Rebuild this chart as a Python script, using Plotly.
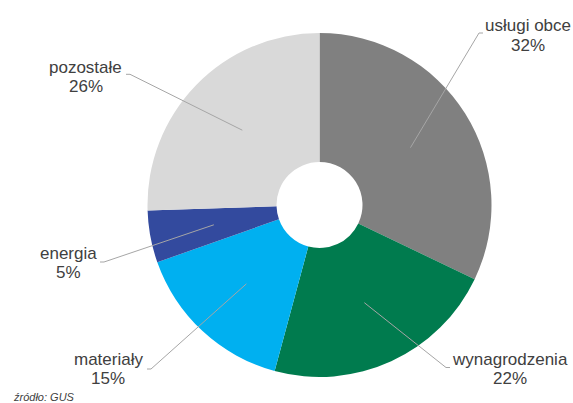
import math
import plotly.graph_objects as go

# ---- data ----
categories = ["usługi obce", "wynagrodzenia", "materiały", "energia", "pozostałe"]
values = [32.1, 22.1, 15.4, 4.9, 25.5]
pct_labels = ["32%", "22%", "15%", "5%", "26%"]
colors = ["#808080", "#007B4E", "#00B0F0", "#334A9E", "#D9D9D9"]

# ---- layout (pixels) ----
W, H = 573, 403
CX, CY, R = 319.5, 205.0, 172.0
HOLE = 0.25

# label placement: (name center x, name baseline y, pct baseline y, elbow x, elbow y, end x)
label_pos = {
    "usługi obce":   (528, 31.5, 51.5, 479, 33, 483),
    "wynagrodzenia": (510, 365, 384, 446, 367.5, 450),
    "materiały":     (108, 365, 384, 151, 369, 147),
    "energia":       (68.5, 259, 278.5, 104, 262, 100),
    "pozostałe":     (85.5, 73, 92, 130, 74.3, 126),
}

def px(x):
    return x / W

def py(y):
    return 1 - y / H

fig = go.Figure(go.Pie(
    labels=categories,
    values=values,
    marker=dict(colors=colors, line=dict(width=0)),
    hole=HOLE,
    sort=False,
    direction="clockwise",
    rotation=0,
    textinfo="none",
    hoverinfo="skip",
    showlegend=False,
    domain=dict(x=[px(CX - R), px(CX + R)], y=[py(CY + R), py(CY - R)]),
))

FONT = "Liberation Sans, Arial, sans-serif"
TXT = "#404040"
FS = 17
annotations = []
shapes = []
total = sum(values)
cum = 0.0
for cat, v, pl in zip(categories, values, pct_labels):
    theta = 2 * math.pi * (cum + v / 2) / total
    cum += v
    ax = CX + 0.625 * R * math.sin(theta)
    ay = CY - 0.625 * R * math.cos(theta)
    nx, nb, pb, ex, ey, endx = label_pos[cat]
    shapes.append(dict(
        type="path", xref="paper", yref="paper",
        path=f"M {px(ax)},{py(ay)} L {px(ex)},{py(ey)} L {px(endx)},{py(ey)}",
        line=dict(color="#A6A6A6", width=1),
    ))
    for txt, base in ((cat, nb), (pl, pb)):
        annotations.append(dict(
            text=txt, x=px(nx), y=py(base - 5.8), xref="paper", yref="paper",
            xanchor="center", yanchor="middle", showarrow=False,
            font=dict(family=FONT, size=FS, color=TXT),
        ))

annotations.append(dict(
    text="<i>źródło: GUS</i>", x=px(11), y=py(405), xref="paper", yref="paper",
    xanchor="left", yanchor="bottom", showarrow=False,
    font=dict(family=FONT, size=11, color=TXT),
))

fig.update_layout(
    width=W, height=H,
    margin=dict(l=0, r=0, t=0, b=0),
    paper_bgcolor="white", plot_bgcolor="white",
    annotations=annotations, shapes=shapes,
)

fig.write_html("out.html")
